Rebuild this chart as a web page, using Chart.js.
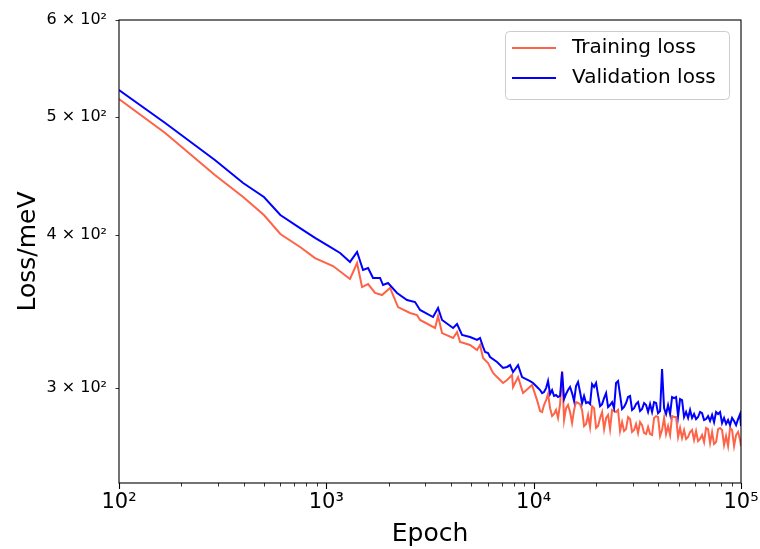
<!DOCTYPE html>
<html>
<head>
<meta charset="utf-8">
<script src="https://cdn.jsdelivr.net/npm/chart.js@4.4.1/dist/chart.umd.min.js"></script>
<style>
  html, body { margin: 0; padding: 0; background: #fff; }
  #wrap { width: 760px; height: 549px; }
</style>
</head>
<body>
<div id="wrap"><canvas id="chart" width="760" height="549"></canvas></div>
<script>
// ---- data ----
// early part (shared-ish epochs up to ~1e4)
const trainEpochsEarly = [
  100, 167, 290, 397, 500, 600, 747, 882, 1077, 1301, 1407, 1487, 1590, 1718, 1856, 2029,
  2218, 2533, 2738, 2831, 3345, 3458, 3615, 4086, 4271, 4416, 4934, 5333, 5513, 5700,
  6026, 6372, 6659, 7118, 7441, 7865, 7954, 8409, 8888, 9823, 10380
];
const trainLossEarly = [
  517.0, 484.8, 447.9, 429.7, 415.4, 400.8, 391.1, 383.0, 377.3, 368.2, 379.4, 362.6, 364.7, 358.6, 357.2, 362.0,
  349.2, 345.3, 344.0, 340.8, 335.7, 343.3, 332.5, 329.4, 333.1, 326.9, 325.1, 322.0, 325.1, 317.2,
  314.2, 308.4, 306.0, 302.6, 304.3, 307.2, 300.3, 306.0, 296.9, 301.4, 293.0
];
const valEpochsEarly = [
  100, 167, 290, 397, 500, 600, 747, 882, 1042, 1165, 1301, 1407, 1503, 1590, 1680, 1816,
  1877, 1984, 2193, 2450, 2679, 2831, 3271, 3458, 3615, 4086, 4271, 4514, 4934, 5333,
  5513, 5700, 5829, 6026, 6162, 6659, 7118, 7441, 7693, 7954, 8409, 8790, 9609, 9934, 10380
];
const valLossEarly = [
  525.8, 494.1, 460.8, 441.2, 429.7, 415.4, 405.3, 397.8, 391.1, 386.7, 380.2, 387.4, 374.5, 375.9, 368.9, 368.9,
  364.0, 365.4, 358.6, 353.9, 352.5, 347.3, 342.7, 348.6, 340.8, 335.7, 338.2, 331.3, 330.0, 328.2,
  329.4, 323.9, 320.8, 320.2, 317.8, 314.8, 311.3, 311.9, 313.0, 308.9, 313.0, 306.0, 303.7, 302.6, 300.3
];

// noisy late part, both series logged at the same epochs
const lateEpochs = [
  10740, 10980, 11220, 11480, 11730, 12000, 12270, 12540, 12820, 13110, 13410, 13710,
  14020, 14330, 14650, 14980, 15320, 15660, 16010, 16370, 16740, 17120, 17500, 17900,
  18300, 18710, 19130, 19560, 20000, 20450, 20910, 21380, 21860, 22350, 22850, 23360,
  23890, 24420, 24970, 25530, 26110, 26690, 27290, 27900, 28530, 29170, 29830, 30500,
  31180, 31880, 32600, 33330, 34080, 34850, 35630, 36430, 37250, 38080, 38940, 39810,
  40710, 41620, 42560, 43510, 44490, 45490, 46510, 47560, 48620, 49720, 50830, 51970,
  53140, 54330, 55560, 56800, 58080, 59380, 60720, 62080, 63480, 64900, 66360, 67850,
  69370, 70930, 72530, 74150, 75820, 77520, 79260, 81040, 82860, 84730, 86630, 88570,
  90560, 92600, 94680, 96800, 98980, 100000
];
const trainLossLate = [
  287.0, 286.5, 290.3, 293.0, 296.4, 288.6, 284.3, 285.4, 287.6, 283.3, 290.8, 309.5,
  282.2, 288.6, 290.3, 286.5, 280.6, 287.6, 291.9, 291.4, 290.8, 287.6, 279.0, 280.1,
  284.9, 278.5, 289.7, 288.6, 278.0, 279.0, 283.3, 286.5, 277.4, 283.3, 284.9, 277.4,
  287.6, 287.0, 286.5, 287.6, 276.4, 281.1, 276.4, 277.4, 283.8, 282.7, 275.9, 276.9,
  280.1, 275.4, 281.1, 279.5, 275.4, 274.8, 278.5, 274.8, 274.3, 283.3, 284.3, 283.8,
  273.8, 276.9, 283.3, 274.8, 279.0, 274.3, 284.3, 283.8, 283.8, 273.3, 278.0, 272.8,
  276.9, 272.3, 273.3, 275.9, 276.9, 271.8, 276.4, 271.2, 272.3, 274.3, 270.7, 278.0,
  277.4, 270.2, 275.9, 269.7, 270.7, 277.4, 278.0, 276.9, 269.2, 273.8, 268.7, 278.0,
  276.9, 268.7, 274.3, 275.9, 271.8, 268.7
];
const valLossLate = [
  298.6, 296.9, 297.5, 299.7, 303.7, 296.4, 298.6, 295.3, 295.8, 294.7, 295.3, 308.9,
  293.6, 296.4, 298.6, 300.3, 296.9, 292.5, 300.9, 303.2, 297.5, 291.4, 295.3, 291.4,
  291.9, 290.8, 302.0, 300.3, 302.6, 295.8, 289.7, 290.8, 294.1, 296.9, 289.2, 290.3,
  291.9, 288.6, 302.6, 303.7, 295.8, 288.1, 289.2, 291.4, 294.7, 295.3, 287.6, 288.6,
  290.8, 291.9, 287.0, 288.1, 291.4, 290.3, 286.5, 290.8, 286.5, 291.9, 291.4, 285.9,
  287.0, 310.7, 288.6, 285.4, 290.3, 285.4, 294.7, 294.1, 294.7, 284.3, 293.6, 293.0,
  283.8, 286.5, 283.3, 287.6, 283.3, 285.4, 282.7, 283.8, 286.5, 285.9, 282.2, 282.7,
  284.3, 281.7, 284.9, 281.1, 286.5, 285.4, 286.5, 280.6, 283.3, 280.1, 282.2, 279.5,
  283.3, 281.7, 279.5, 282.7, 285.4, 279.0
];

const seriesLabels = ['Training loss', 'Validation loss'];
const seriesColors = ['#ff6347', '#0000ff'];

const xTicks = [100, 1000, 10000, 100000];
const xTickLabels = ['10²', '10³', '10⁴', '10⁵'];
const yTicks = [300, 400, 500, 600];
const yTickLabels = ['3 × 10²', '4 × 10²', '5 × 10²', '6 × 10²'];

Chart.defaults.font.family = "'DejaVu Sans', sans-serif";
Chart.defaults.color = '#000';

function toPoints(xs, ys) {
    return xs.map((x, i) => ({ x: x, y: ys[i] }));
}

const trainData = toPoints(trainEpochsEarly, trainLossEarly).concat(toPoints(lateEpochs, trainLossLate));
const valData = toPoints(valEpochsEarly, valLossEarly).concat(toPoints(lateEpochs, valLossLate));

// frame + tick marks, drawn matplotlib-style
const framePlugin = {
    id: 'frame',
    afterDatasetsDraw(chart) {
        const { ctx, chartArea: a, scales } = chart;
        ctx.save();
        ctx.strokeStyle = '#000';
        ctx.lineWidth = 1.1;
        ctx.strokeRect(a.left, a.top, a.right - a.left, a.bottom - a.top);

        // x major ticks
        xTicks.forEach(v => {
            const px = Math.round(scales.x.getPixelForValue(v)) + 0.5;
            ctx.beginPath();
            ctx.moveTo(px, a.bottom);
            ctx.lineTo(px, a.bottom + 6);
            ctx.stroke();
        });
        // x minor ticks
        ctx.lineWidth = 0.8;
        for (let d = 100; d < 100000; d *= 10) {
            for (let m = 2; m <= 9; m++) {
                const px = Math.round(scales.x.getPixelForValue(d * m)) + 0.5;
                ctx.beginPath();
                ctx.moveTo(px, a.bottom);
                ctx.lineTo(px, a.bottom + 3.5);
                ctx.stroke();
            }
        }
        // y ticks (minor in the log sense)
        yTicks.forEach(v => {
            const py = Math.round(scales.y.getPixelForValue(v)) + 0.5;
            ctx.beginPath();
            ctx.moveTo(a.left, py);
            ctx.lineTo(a.left - 3.5, py);
            ctx.stroke();
        });
        ctx.restore();
    }
};

// legend box in the upper right
const legendPlugin = {
    id: 'boxLegend',
    afterDraw(chart) {
        const { ctx } = chart;
        const x0 = 505, y0 = 31, w = 224, h = 68, r = 4;
        ctx.save();
        ctx.fillStyle = 'rgba(255,255,255,0.8)';
        ctx.strokeStyle = '#cccccc';
        ctx.lineWidth = 1;
        ctx.beginPath();
        ctx.roundRect(x0 + 0.5, y0 + 0.5, w, h, r);
        ctx.fill();
        ctx.stroke();

        ctx.font = "20px 'DejaVu Sans'";
        ctx.textBaseline = 'middle';
        ctx.fillStyle = '#000';
        chart.data.datasets.forEach((ds, i) => {
            const yy = 48 + i * 30;
            ctx.strokeStyle = ds.borderColor;
            ctx.lineWidth = 2;
            ctx.beginPath();
            ctx.moveTo(512, yy);
            ctx.lineTo(556, yy);
            ctx.stroke();
            ctx.fillText(ds.label, 572, yy);
        });
        ctx.restore();
    }
};

new Chart(document.getElementById('chart'), {
    type: 'line',
    data: {
        datasets: [{
            label: seriesLabels[0],
            data: trainData,
            borderColor: seriesColors[0],
            borderWidth: 2,
            pointRadius: 0,
            tension: 0,
            order: 1
        }, {
            label: seriesLabels[1],
            data: valData,
            borderColor: seriesColors[1],
            borderWidth: 2,
            pointRadius: 0,
            tension: 0,
            order: 0
        }]
    },
    options: {
        responsive: false,
        animation: false,
        devicePixelRatio: 1,
        layout: { padding: { top: 20, right: 19, left: 0, bottom: 0 } },
        plugins: {
            legend: { display: false },
            tooltip: { enabled: false }
        },
        scales: {
            x: {
                type: 'logarithmic',
                min: 100,
                max: 100000,
                afterBuildTicks(s) { s.ticks = xTicks.map(v => ({ value: v })); },
                afterFit(s) { s.height = 66; s.paddingLeft = 0; s.paddingRight = 0; },
                ticks: {
                    autoSkip: false,
                    maxRotation: 0,
                    padding: 7,
                    font: { size: 21 },
                    callback(v, i) { return xTickLabels[i]; }
                },
                grid: { display: false, drawTicks: false },
                border: { display: false },
                title: {
                    display: true,
                    text: 'Epoch',
                    font: { size: 25 },
                    padding: { top: 0, bottom: 0 }
                }
            },
            y: {
                type: 'logarithmic',
                min: 250.6,
                max: 600,
                afterBuildTicks(s) { s.ticks = yTicks.map(v => ({ value: v })); },
                afterFit(s) { s.width = 119; s.paddingTop = 0; s.paddingBottom = 0; },
                ticks: {
                    autoSkip: false,
                    padding: 12,
                    font: { size: 16 },
                    callback(v, i) { return yTickLabels[i]; }
                },
                grid: { display: false, drawTicks: false },
                border: { display: false },
                title: {
                    display: true,
                    text: 'Loss/meV',
                    font: { size: 25 },
                    padding: { top: 13, bottom: 0 }
                }
            }
        }
    },
    plugins: [framePlugin, legendPlugin]
});
</script>
</body>
</html>
